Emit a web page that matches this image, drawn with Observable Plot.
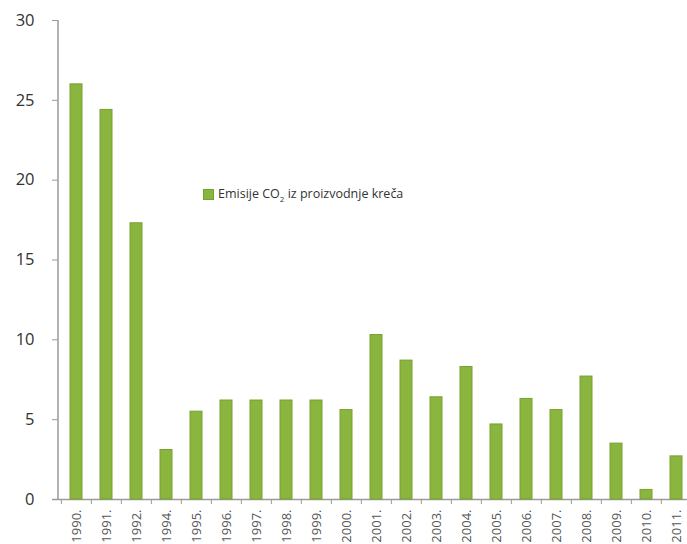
<!DOCTYPE html>
<html>
<head>
<meta charset="utf-8">
<script src="https://cdn.jsdelivr.net/npm/d3@7"></script>
<script src="https://cdn.jsdelivr.net/npm/@observablehq/plot@0.6"></script>
<style>
  html, body { margin: 0; padding: 0; background: #fff; overflow: hidden; width: 687px; height: 544px; }
  #wrap { position: relative; width: 687px; height: 544px; overflow: hidden; }
  #wrap svg { max-width: none !important; }
  #legend { position: absolute; left: 203px; top: 185px; font-family: "Open Sans", sans-serif; font-size: 12.5px; color: #333; display: flex; align-items: center; white-space: nowrap; }
  #legend .sw { width: 11px; height: 11px; background: #8ab53e; border: 1px solid #78a030; box-sizing: border-box; margin-right: 4px; }
  #legend sub { font-size: 8px; }
</style>
</head>
<body>
<div id="wrap"><div id="legend"><span class="sw"></span><span>Emisije CO<sub>2</sub> iz proizvodnje kreča</span></div></div>
<script>
const years = ["1990.","1991.","1992.","1994.","1995.","1996.","1997.","1998.","1999.","2000.","2001.","2002.","2003.","2004.","2005.","2006.","2007.","2008.","2009.","2010.","2011."];
const values = [26.0,24.4,17.3,3.1,5.5,6.2,6.2,6.2,6.2,5.6,10.3,8.7,6.4,8.3,4.7,6.3,5.6,7.7,3.5,0.6,2.7];
const yTicks = [0,5,10,15,20,25,30];
const seriesName = "Emisije CO2 iz proizvodnje kreča";

const data = years.map((y, i) => ({year: y, value: values[i]}));

const W = 694, mL = 58, mR = 0;
const step = (W - mL - mR) / years.length;

const chart = Plot.plot({
  width: W,
  height: 544,
  marginLeft: mL,
  marginRight: mR,
  marginTop: 20,
  marginBottom: 45,
  style: {background: "transparent", overflow: "visible", maxWidth: "none"},
  x: {domain: years, paddingInner: 0.6, paddingOuter: 0.3, align: 0.5},
  y: {domain: [0, 30]},
  marks: [
    Plot.axisY({ticks: yTicks, tickSize: 6, tickPadding: 18, stroke: "#9a9a9a", fill: "#333", fontSize: 16.5, fontFamily: "Open Sans, sans-serif", label: null}),
    Plot.ruleY([0], {stroke: "#9a9a9a", strokeWidth: 1.5, insetLeft: -6}),
    Plot.barY(data, {x: "year", y: "value", fill: "#8ab53e", stroke: "#78a030", strokeWidth: 1}),
    Plot.axisX({ticks: years, tickSize: 5, tickFormat: () => "", dx: -step / 2, stroke: "#9a9a9a", label: null}),
    Plot.axisX({ticks: years, tickSize: 0, tickPadding: 10, tickRotate: -90, fill: "#555", fontSize: 13, fontFamily: "Open Sans, sans-serif", label: null})
  ]
});

// vertical y-axis line
const svg = d3.select(chart);
svg.append("line")
  .attr("x1", mL).attr("x2", mL)
  .attr("y1", 20).attr("y2", 499)
  .attr("stroke", "#9a9a9a").attr("stroke-width", 1.5);

document.getElementById("wrap").prepend(chart);
</script>
</body>
</html>
